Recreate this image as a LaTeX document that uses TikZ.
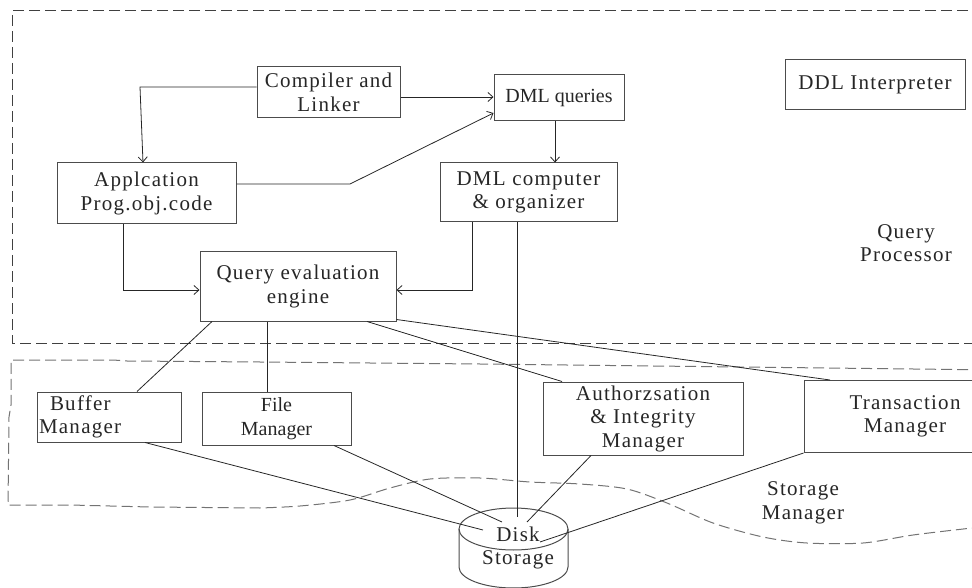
\documentclass[tikz,border=0pt]{standalone}
\usepackage{fontspec}
\setmainfont{Liberation Serif}[LetterSpace=6.0]
\newfontfamily\tightfont{Liberation Serif}
\usetikzlibrary{arrows.meta}
\newcommand{\BoxFont}{\fontsize{21}{23.5}\selectfont}
\newcommand{\TightFont}{\tightfont\fontsize{20}{23.5}\selectfont}
\newcommand{\DiskCylinder}[4]{
\coordinate (TL#1) at ([xshift=-#2pt]#1); % left end of the lid
\coordinate (TR#1) at ([xshift=#2pt]#1); % right end of the lid
\coordinate (BL#1) at ([xshift=-#2pt, yshift=-#4pt]#1); % left end of the base
\coordinate (BR#1) at ([xshift=#2pt, yshift=-#4pt]#1); % right end of the base
\draw[box] (#1) ellipse [x radius=#2pt, y radius=#3pt];
\draw[box] (TL#1) -- (BL#1) arc[start angle=180, end angle=360, x radius=#2pt, y radius=#3pt] -- (TR#1);
}

\begin{document}
\begin{tikzpicture}[x=1pt, y=-1pt,
>={Straight Barb[length=5pt,width=9pt]},
box/.style={draw=black!70, line width=1pt, inner sep=0, align=center, font=\BoxFont, text=black!85},
regionname/.style={inner sep=0, align=center, font=\BoxFont, text=black!85},
conn/.style={black!85, line width=.8pt},
connarrow/.style={conn, ->},
region/.style={line width=1pt, dash pattern=on 11pt off 5pt},
]
\useasboundingbox (0,0) rectangle (972,588);
\clip (0,0) rectangle (972,588);

%%%%%%%%%%%%%%%%%%%%%%%% REGIONS %%%%%%%%%%%%%%%%%%%%%%%%%%%
\draw[region, black!75] (1000,11) -- (12,11) -- (12,343) -- (1000,343); %%%%%%% QUERY PROCESSOR
\draw[region, black!55] (1000,370) -- (480,364) -- (260,362) -- (127,361) -- (113,360) -- (11,360)
      -- (11,405) -- (9,417) -- (8,505) -- (70,505) -- (150,507) -- (260,508)
      -- plot[smooth] coordinates {(260,508) (300,506) (350,500) (390,488) (430,479) (480,478)
         (530,482) (580,484) (627,489) (667,503) (713,523) (763,537) (807,543) (863,543)
         (913,535) (972,528) (1000,525)}; %%%%%%% STORAGE MANAGER

\node[regionname] (QPName) at (906,243) {Query\\Processor};
\node[regionname] (SMName) at (803,503) {Storage\\Manager};

%%%%%%%%%%%%%%%%%%%%%%%% QUERY PROCESSOR BOXES %%%%%%%%%%%%%%%%%%%%%%%%%%%
\node[box, minimum width=143pt, minimum height=51pt] (Compiler) at (328.5,92.5) {Compiler and\\Linker};
\node[box, font=\TightFont, minimum width=130pt, minimum height=46pt] (DMLQueries) at (559,98) {DML queries};
\node[box, minimum width=180pt, minimum height=50pt] (DDL) at (875,85) {DDL Interpreter};
\node[box, minimum width=179pt, minimum height=61pt] (Application) at (146.5,193.5) {Applcation\\Prog.obj.code};
\node[box, minimum width=177pt, minimum height=59pt] (DMLComputer) at (528.5,192.5) {DML computer\\\& organizer};
\node[box, minimum width=196pt, minimum height=69pt] (QueryEngine) at (298,286.5) {Query evaluation\\engine};

%%%%%%%%%%%%%%%%%%%%%%%% STORAGE MANAGER BOXES %%%%%%%%%%%%%%%%%%%%%%%%%%%
\node[box, align=left, text width=140pt, inner xsep=2pt, minimum height=50pt] (BufferMgr) at (109,417) {\hspace{11pt}Buffer\\Manager};
\node[box, font=\TightFont, minimum width=149pt, minimum height=53pt] (FileMgr) at (276.5,418.5) {File\\Manager};
\node[box, minimum width=200pt, minimum height=73pt] (AuthMgr) at (643,418.5) {Authorzsation\\\& Integrity\\Manager};
\node[box, minimum width=202pt, minimum height=72pt] (TransMgr) at (905,416.5) {Transaction\\Manager};

%%%%%%%%%%%%%%%%%%%%%%%% DISK %%%%%%%%%%%%%%%%%%%%%%%%%%%
\coordinate (DiskTop) at (513.5,529);
  \DiskCylinder{DiskTop}{54.5}{21}{38}
\node[regionname] (Disk) at (518,548) {Disk\\Storage};
\coordinate (DiskA) at (517,517); % from the organizer
\coordinate (DiskB) at (483,530); % from the buffer
\coordinate (DiskC) at (502,522); % from the file manager
\coordinate (DiskD) at (527,522); % from the integrity manager
\coordinate (DiskE) at (540,542); % from the transaction manager

%%%%%%%%%%%%%%%%%%%%%%%% ARROWS %%%%%%%%%%%%%%%%%%%%%%%%%%%
\coordinate (CompilerBend) at (140,87);
\coordinate (AppBend) at (350,184);
\draw[connarrow] ([yshift=5.5pt]Compiler.west) -- (CompilerBend) -- ([xshift=-3.5pt]Application.north);
\draw[connarrow] ([yshift=-4.5pt]Compiler.east) -- ([yshift=1pt]DMLQueries.west);
\draw[connarrow] ([yshift=9.5pt]Application.east) -- (AppBend) -- ([yshift=-15pt]DMLQueries.west);
\draw[connarrow] ([xshift=-4pt]DMLQueries.south) -- ([xshift=-4pt]DMLQueries.south |- DMLComputer.north);
\draw[connarrow] ([xshift=-23.5pt]Application.south) |- ([yshift=-3.5pt]QueryEngine.west);
\draw[connarrow] ([xshift=-56pt]DMLComputer.south) |- ([yshift=-3.5pt]QueryEngine.east);
\draw[conn] (DiskA |- DMLComputer.south) -- (DiskA);

%%%%%%%%%%%%%%%%%%%%%%%% LINES %%%%%%%%%%%%%%%%%%%%%%%%%%%
\draw[conn] ([xshift=-86pt]QueryEngine.south) -- ([xshift=28pt]BufferMgr.north);
\draw[conn] ([xshift=-31pt]QueryEngine.south) -- ([xshift=-9.5pt]FileMgr.north);
\draw[conn] ([xshift=69pt]QueryEngine.south) -- ([xshift=-81pt]AuthMgr.north);
\draw[conn] ([yshift=2pt]QueryEngine.south east) -- ([xshift=-75pt]TransMgr.north);

\draw[conn] ([xshift=36pt]BufferMgr.south) -- (DiskB);
\draw[conn] ([xshift=57.5pt]FileMgr.south) -- (DiskC);
\draw[conn] ([xshift=-52pt]AuthMgr.south) -- (DiskD);
\draw[conn] (TransMgr.south west) -- (DiskE);

\end{tikzpicture}
\end{document}
